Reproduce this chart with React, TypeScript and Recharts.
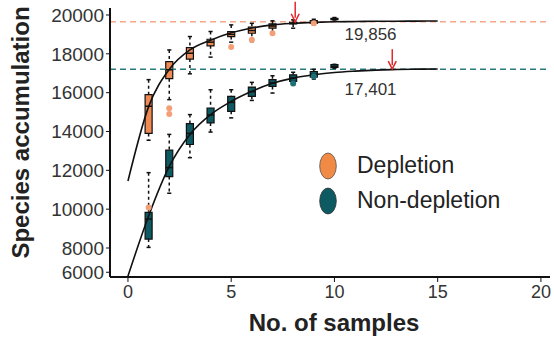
import React from 'react';
import {
  ComposedChart,
  Line,
  Scatter,
  XAxis,
  YAxis,
  ReferenceArea,
  ReferenceLine,
  ReferenceDot,
} from 'recharts';

// fitted curves (x = 0..15)
const curveX = [0, 1, 2, 3, 4, 5, 6, 7, 8, 9, 10, 11, 12, 13, 14, 15];
const depletionCurve = [11450, 15280, 17200, 18200, 18700, 19080, 19330, 19490, 19570, 19620, 19650, 19665, 19675, 19680, 19685, 19690];
const nonDepletionCurve = [6550, 9650, 12200, 13850, 14870, 15550, 16070, 16480, 16750, 16920, 17040, 17110, 17160, 17190, 17210, 17220];

// box plots: [low, q1, median, q3, high] for samples 1..10
const samples = [1, 2, 3, 4, 5, 6, 7, 8, 9, 10];
const depletionBoxes = [
  [13550, 13900, 15300, 15900, 16670],
  [15640, 16720, 17180, 17600, 18200],
  [16970, 17730, 18030, 18320, 18890],
  [17830, 18410, 18600, 18750, 19150],
  [18600, 18890, 19000, 19140, 19490],
  [18630, 19060, 19200, 19370, 19570],
  [19060, 19320, 19430, 19540, 19700],
  [19320, 19540, 19590, 19640, 19750],
  [19500, 19570, 19640, 19710, 19780],
  [19740, 19760, 19800, 19830, 19870],
];
const nonDepletionBoxes = [
  [8030, 8460, 9490, 9830, 11880],
  [10820, 11680, 12140, 13040, 13850],
  [12650, 13330, 13900, 14410, 14870],
  [13970, 14440, 14850, 15210, 16150],
  [14700, 15040, 15500, 15810, 16150],
  [15600, 15810, 16050, 16290, 16530],
  [15980, 16320, 16500, 16670, 16870],
  [16400, 16580, 16750, 16920, 17050],
  [16700, 16800, 16950, 17090, 17200],
  [17260, 17300, 17350, 17440, 17460],
];

// outlier points
const depletionOutliers = [
  { x: 1, y: 10090 },
  { x: 2, y: 15200 },
  { x: 2, y: 14900 },
  { x: 5, y: 18350 },
  { x: 6, y: 18720 },
  { x: 7, y: 19060 },
  { x: 9, y: 19580 },
];
const nonDepletionOutliers = [
  { x: 8, y: 16470 },
  { x: 9, y: 16850 },
];

// asymptotes (drawn) and their printed labels
const depletionAsymptote = 19650;
const nonDepletionAsymptote = 17210;
const depletionLabel = '19,856';
const nonDepletionLabel = '17,401';
const depletionArrowX = 8.1;
const nonDepletionArrowX = 12.8;

const legendNames = ['Depletion', 'Non-depletion'];

const xTicks = [0, 5, 10, 15, 20];
const yTicks = [6750, 8000, 10000, 12000, 14000, 16000, 18000, 20000];
const yTickLabels = ['6000', '8000', '10000', '12000', '14000', '16000', '18000', '20000'];

const ORANGE = '#ef8a55';
const ORANGE_DOT = '#f3a078';
const ORANGE_DASH = '#f3a88a';
const TEAL = '#0d5a62';
const TEAL_DOT = '#1c7078';
const TEAL_DASH = '#2a7a7e';
const FONT = '"Liberation Sans", Arial, sans-serif';

const depletionData = curveX.map((x, i) => ({ x, y: depletionCurve[i] }));
const nonDepletionData = curveX.map((x, i) => ({ x, y: nonDepletionCurve[i] }));

const HALF = 0.17;
const CAP = 0.1;

const renderBoxes = (boxes: number[][], fill: string, key: string) =>
  boxes.map((b, i) => {
    const x = samples[i];
    const [lo, q1, med, q3, hi] = b;
    return (
      <React.Fragment key={key + i}>
        <ReferenceLine
          segment={[{ x, y: hi }, { x, y: q3 }]}
          stroke="#111"
          strokeWidth={1.5}
          strokeDasharray="3 3"
          ifOverflow="visible"
        />
        <ReferenceLine
          segment={[{ x, y: q1 }, { x, y: lo }]}
          stroke="#111"
          strokeWidth={1.5}
          strokeDasharray="3 3"
          ifOverflow="visible"
        />
        <ReferenceLine segment={[{ x: x - CAP, y: hi }, { x: x + CAP, y: hi }]} stroke="#111" strokeWidth={1.5} ifOverflow="visible" />
        <ReferenceLine segment={[{ x: x - CAP, y: lo }, { x: x + CAP, y: lo }]} stroke="#111" strokeWidth={1.5} ifOverflow="visible" />
        <ReferenceArea
          x1={x - HALF}
          x2={x + HALF}
          y1={q1}
          y2={q3}
          fill={fill}
          fillOpacity={1}
          stroke="#111"
          strokeWidth={1.2}
          ifOverflow="visible"
        />
        <ReferenceLine segment={[{ x: x - HALF, y: med }, { x: x + HALF, y: med }]} stroke="#111" strokeWidth={1.5} ifOverflow="visible" />
      </React.Fragment>
    );
  });

const Arrow = (props: any) => {
  const { cx, cy } = props;
  if (cx == null || cy == null) return null;
  return (
    <g>
      <line x1={cx} y1={cy - 20} x2={cx} y2={cy - 4} stroke="#e5262b" strokeWidth={1.5} />
      <path d={`M${cx - 4},${cy - 8} L${cx},${cy} L${cx + 4},${cy - 8}`} fill="none" stroke="#e5262b" strokeWidth={1.5} />
    </g>
  );
};

const SmallDot = (props: any) => {
  const { cx, cy, fill } = props;
  if (cx == null || cy == null) return null;
  return <circle cx={cx} cy={cy} r={3} fill={fill} />;
};

const App: React.FC = () => {
  return (
    <div style={{ position: 'absolute', left: 0, top: 0, width: 554, height: 339, background: '#fff' }}>
      <ComposedChart
        width={554}
        height={339}
        margin={{ top: 8, right: 4, bottom: 0, left: 0 }}
        style={{ fontFamily: FONT }}
      >
        <XAxis
          type="number"
          dataKey="x"
          domain={[-0.87, 20.44]}
          allowDataOverflow
          ticks={xTicks}
          interval={0}
          height={62}
          tickSize={5}
          tickMargin={3}
          tick={{ fontSize: 18, fill: '#333', fontFamily: FONT }}
          axisLine={{ stroke: '#111', strokeWidth: 2 }}
          tickLine={{ stroke: '#111', strokeWidth: 1 }}
          label={{
            content: (p: any) => {
              const vb = p.viewBox || { x: 110, y: 277, width: 440 };
              return (
                <text
                  x={vb.x + vb.width / 2 + 4}
                  y={vb.y + 54}
                  textAnchor="middle"
                  fontSize={24}
                  fontWeight="bold"
                  fill="#222"
                  fontFamily={FONT}
                >
                  No. of samples
                </text>
              );
            },
          }}
        />
        <YAxis
          type="number"
          dataKey="y"
          domain={[6506, 20360]}
          allowDataOverflow
          ticks={yTicks}
          interval={0}
          tickFormatter={(v: number) => yTickLabels[yTicks.indexOf(v)] ?? String(v)}
          width={110}
          tickSize={4}
          tickMargin={2}
          tick={{ fontSize: 19, fill: '#333', fontFamily: FONT }}
          axisLine={{ stroke: '#111', strokeWidth: 2 }}
          tickLine={{ stroke: '#111', strokeWidth: 1 }}
          label={{
            content: (p: any) => {
              const vb = p.viewBox || { x: 0, y: 8, height: 269 };
              const cx = vb.x + 20;
              const cy = vb.y + vb.height / 2 - 10;
              return (
                <text
                  x={cx}
                  y={cy}
                  textAnchor="middle"
                  dominantBaseline="central"
                  transform={`rotate(-90, ${cx}, ${cy})`}
                  fontSize={24}
                  fontWeight="bold"
                  fill="#222"
                  fontFamily={FONT}
                >
                  Species accumulation
                </text>
              );
            },
          }}
        />

        <ReferenceLine y={depletionAsymptote} stroke={ORANGE_DASH} strokeWidth={1.5} strokeDasharray="6 4" />
        <ReferenceLine y={nonDepletionAsymptote} stroke={TEAL_DASH} strokeWidth={1.5} strokeDasharray="6 4" />

        {renderBoxes(depletionBoxes, ORANGE, 'd')}
        {renderBoxes(nonDepletionBoxes, TEAL, 'n')}

        <Scatter data={depletionOutliers} fill={ORANGE_DOT} shape={SmallDot} isAnimationActive={false} legendType="none" />
        <Scatter data={nonDepletionOutliers} fill={TEAL_DOT} shape={SmallDot} isAnimationActive={false} legendType="none" />

        <Line
          data={depletionData}
          dataKey="y"
          type="monotone"
          stroke="#111"
          strokeWidth={1.6}
          dot={false}
          isAnimationActive={false}
          legendType="none"
        />
        <Line
          data={nonDepletionData}
          dataKey="y"
          type="monotone"
          stroke="#111"
          strokeWidth={1.6}
          dot={false}
          isAnimationActive={false}
          legendType="none"
        />

        <ReferenceDot
          x={11.75}
          y={19020}
          r={0}
          fill="none"
          stroke="none"
          label={{ value: depletionLabel, fill: '#333', fontSize: 17, fontFamily: FONT }}
        />
        <ReferenceDot
          x={11.75}
          y={16200}
          r={0}
          fill="none"
          stroke="none"
          label={{ value: nonDepletionLabel, fill: '#333', fontSize: 17, fontFamily: FONT }}
        />

        <ReferenceDot x={depletionArrowX} y={depletionAsymptote} shape={Arrow} ifOverflow="visible" />
        <ReferenceDot x={nonDepletionArrowX} y={nonDepletionAsymptote} shape={Arrow} ifOverflow="visible" />
      </ComposedChart>

      <div style={{ position: 'absolute', left: 319, top: 148, fontFamily: FONT, fontSize: 23, color: '#222' }}>
        <div style={{ display: 'flex', alignItems: 'center', height: 35 }}>
          <svg width={18} height={28} style={{ marginRight: 20 }}>
            <ellipse cx={9} cy={14} rx={8.3} ry={13} fill="#f08a45" stroke="#555" strokeWidth={0.8} />
          </svg>
          {legendNames[0]}
        </div>
        <div style={{ display: 'flex', alignItems: 'center', height: 35 }}>
          <svg width={18} height={28} style={{ marginRight: 20 }}>
            <ellipse cx={9} cy={14} rx={8.3} ry={13} fill={TEAL} stroke="#333" strokeWidth={0.8} />
          </svg>
          {legendNames[1]}
        </div>
      </div>
    </div>
  );
};

export default App;
